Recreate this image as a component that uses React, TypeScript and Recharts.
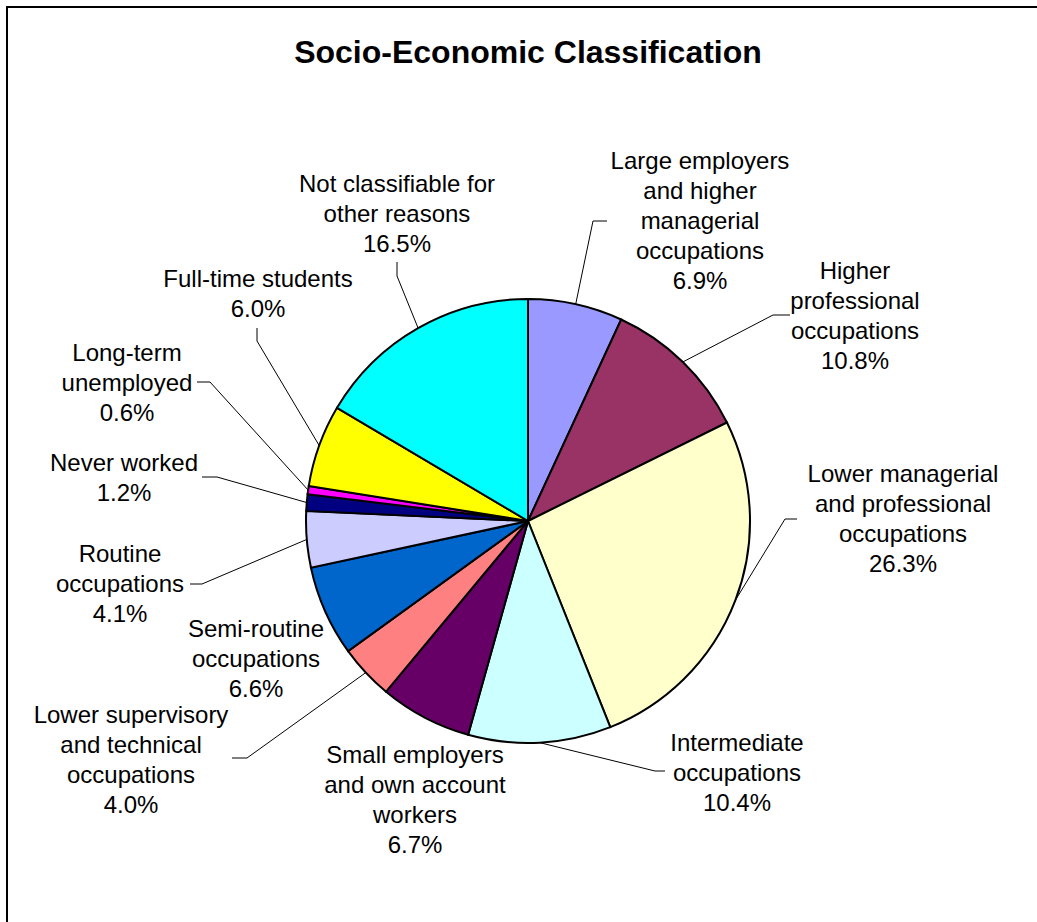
import React from 'react'
import { PieChart, Pie, Cell } from 'recharts'

// category names (line breaks follow the reference labels)
const categories = [
  'Large employers\nand higher\nmanagerial\noccupations',
  'Higher\nprofessional\noccupations',
  'Lower managerial\nand professional\noccupations',
  'Intermediate\noccupations',
  'Small employers\nand own account\nworkers',
  'Lower supervisory\nand technical\noccupations',
  'Semi-routine\noccupations',
  'Routine\noccupations',
  'Never worked',
  'Long-term\nunemployed',
  'Full-time students',
  'Not classifiable for\nother reasons',
]

const shares = [6.9, 10.8, 26.3, 10.4, 6.7, 4.0, 6.6, 4.1, 1.2, 0.6, 6.0, 16.5]

const colors = [
  '#9999FF',
  '#993366',
  '#FFFFCC',
  '#CCFFFF',
  '#660066',
  '#FF8080',
  '#0066CC',
  '#CCCCFF',
  '#000080',
  '#FF00FF',
  '#FFFF00',
  '#00FFFF',
]

const data = categories.map((name, i) => ({ name, value: shares[i] }))

// label placement relative to pie centre: text centre x, first line y, leader elbow + tick end
type LabelPos = { tx: number; ty: number; leader: [number, number][] | null }
const labelLayout: LabelPos[] = [
  { tx: 172, ty: -361, leader: [[65, -300], [79, -300]] },
  { tx: 327, ty: -251, leader: [[245, -206], [262, -206]] },
  { tx: 375, ty: -48, leader: [[257, -2], [269, -2]] },
  { tx: 209, ty: 221, leader: [[127, 250], [137, 250]] },
  { tx: -113, ty: 233, leader: null },
  { tx: -397, ty: 193, leader: [[-281, 237], [-296, 237]] },
  { tx: -272, ty: 107, leader: null },
  { tx: -408, ty: 32, leader: [[-326, 63], [-338, 63]] },
  { tx: -404, ty: -59, leader: [[-311, -44], [-326, -44]] },
  { tx: -401, ty: -169, leader: [[-318, -139], [-331, -139]] },
  { tx: -270, ty: -243, leader: [[-271, -180], [-271, -193]] },
  { tx: -131, ty: -338, leader: [[-131, -245], [-131, -259]] },
]

const FONT = '"Liberation Sans", Arial, sans-serif'
const RAD = Math.PI / 180
const LINE_H = 30

const renderLabel = (props: any) => {
  const { cx, cy, midAngle, outerRadius, index, value } = props
  const pos = labelLayout[index]
  const lines = String(categories[index]).split('\n')
  lines.push(`${Number(value).toFixed(1)}%`)
  const sx = cx + outerRadius * Math.cos(-midAngle * RAD)
  const sy = cy + outerRadius * Math.sin(-midAngle * RAD)
  let points = ''
  if (pos.leader) {
    points = [[sx, sy], ...pos.leader.map(([dx, dy]) => [cx + dx, cy + dy])]
      .map((p) => p.join(','))
      .join(' ')
  }
  return (
    <g key={`lbl-${index}`}>
      {pos.leader && <polyline points={points} fill="none" stroke="#000" strokeWidth={1} />}
      {lines.map((ln, i) => (
        <text
          key={i}
          x={cx + pos.tx}
          y={cy + pos.ty + i * LINE_H + 8.5}
          textAnchor="middle"
          fontFamily={FONT}
          fontSize={24}
          fill="#000"
        >
          {ln}
        </text>
      ))}
    </g>
  )
}

export default function App() {
  return (
    <div
      style={{
        position: 'absolute',
        left: 0,
        top: 0,
        width: 1037,
        height: 922,
        overflow: 'hidden',
        background: '#fff',
      }}
    >
      <div
        style={{
          position: 'absolute',
          left: 6,
          top: 6,
          width: 1100,
          height: 1000,
          border: '2px solid #000',
        }}
      />
      <svg width={1037} height={922} style={{ position: 'absolute', left: 0, top: 0 }}>
        <text
          x={528}
          y={63}
          textAnchor="middle"
          fontFamily={FONT}
          fontWeight="bold"
          fontSize={32}
          fill="#000"
        >
          Socio-Economic Classification
        </text>
      </svg>
      <div style={{ position: 'absolute', left: 0, top: 0 }}>
        <PieChart width={1037} height={922} margin={{ top: 0, right: 0, bottom: 0, left: 0 }}>
          <Pie
            data={data}
            dataKey="value"
            nameKey="name"
            cx={528}
            cy={521}
            outerRadius={222}
            startAngle={90}
            endAngle={-270}
            label={renderLabel}
            labelLine={false}
            isAnimationActive={false}
          >
            {data.map((d, i) => (
              <Cell key={d.name} fill={colors[i]} stroke="#000" strokeWidth={2} />
            ))}
          </Pie>
        </PieChart>
      </div>
    </div>
  )
}
